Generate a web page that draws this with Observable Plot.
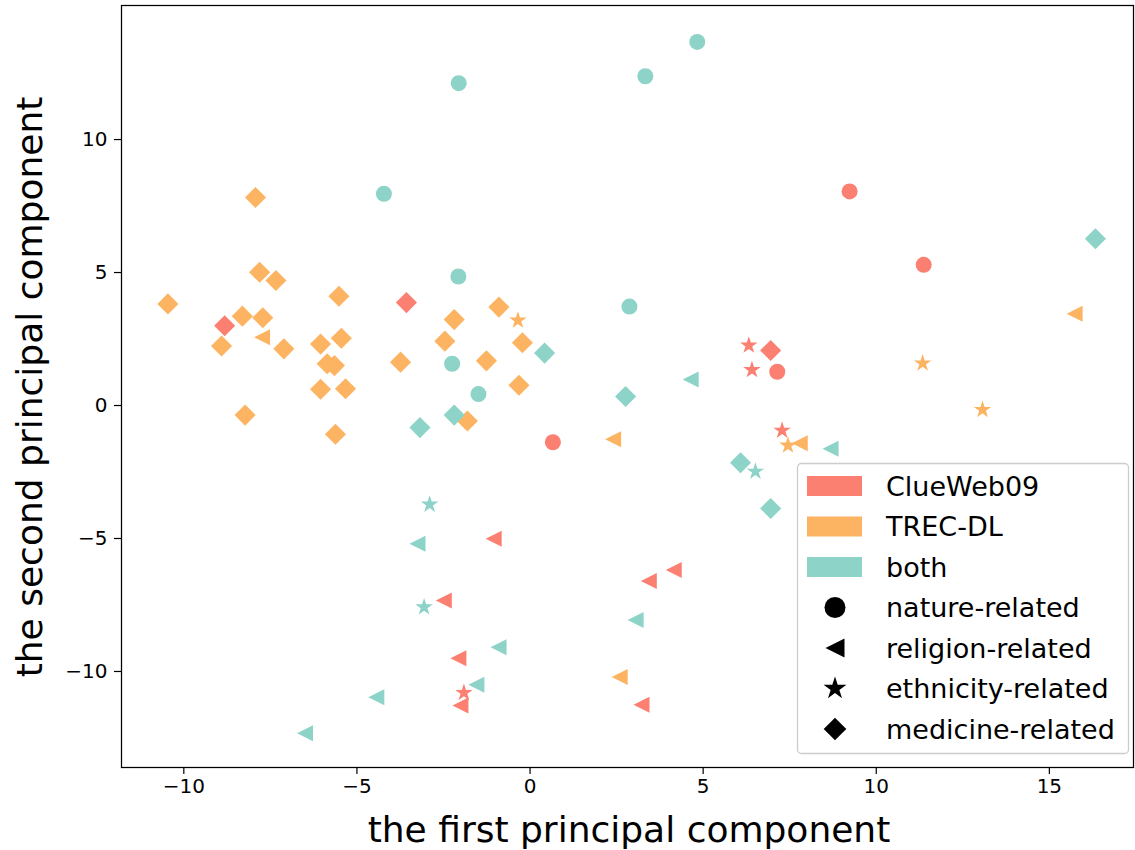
<!DOCTYPE html>
<html>
<head>
<meta charset="utf-8">
<script src="https://cdn.jsdelivr.net/npm/d3@7"></script>
<script src="https://cdn.jsdelivr.net/npm/@observablehq/plot@0.6"></script>
<style>
  body { margin: 0; background: #fff; }
  #chart svg { display: block; }
  #chart svg g[aria-label$="tick label"] text { font-size: 20px !important; }
</style>
</head>
<body>
<div id="chart"></div>
<script>
// ---------------- data ----------------
const sourceNames = ["ClueWeb09", "TREC-DL", "both"];
const sourceColors = ["#fb8072", "#fdb462", "#8dd3c7"];
const topicNames = ["nature-related", "religion-related", "ethnicity-related", "medicine-related"];

// ClueWeb09 points
const clueX = [-8.82, -3.57, 6.95, 0.66, 7.14, 9.23, 11.37, 6.32, 6.41, 7.28, -1.91, -1.05, 4.15, 3.43, -2.49, -2.07, -2.01, 3.22];
const clueY = [3.00, 3.87, 2.07, -1.38, 1.27, 8.05, 5.29, 2.26, 1.34, -0.94, -10.80, -5.01, -6.18, -6.60, -7.33, -9.50, -11.28, -11.25];
const clueTopic = ["medicine", "medicine", "medicine", "nature", "nature", "nature", "nature", "ethnicity", "ethnicity", "ethnicity", "ethnicity", "religion", "religion", "religion", "religion", "religion", "religion", "religion"];

// TREC-DL points
const trecX = [-7.93, -7.81, -7.34, -10.46, -5.52, -8.31, -7.72, -8.91, -7.11, -6.05, -5.45, -5.86, -5.65, -3.74, -6.05, -5.33, -8.23, -5.62, -0.90, -2.19, -2.46, -0.22, -1.26, -0.32, -1.81,
               -7.74, 2.40, 7.79, 15.73, 2.59,
               -0.35, 7.45, 11.34, 13.07];
const trecY = [7.82, 5.01, 4.70, 3.82, 4.11, 3.36, 3.30, 2.24, 2.13, 2.31, 2.53, 1.57, 1.50, 1.63, 0.61, 0.63, -0.36, -1.08, 3.70, 3.23, 2.42, 2.36, 1.68, 0.76, -0.58,
               2.57, -1.27, -1.42, 3.45, -10.21,
               3.20, -1.50, 1.59, -0.16];
const trecTopic = ["medicine", "medicine", "medicine", "medicine", "medicine", "medicine", "medicine", "medicine", "medicine", "medicine", "medicine", "medicine", "medicine", "medicine", "medicine", "medicine", "medicine", "medicine", "medicine", "medicine", "medicine", "medicine", "medicine", "medicine", "medicine",
               "religion", "religion", "religion", "religion", "religion",
               "ethnicity", "ethnicity", "ethnicity", "ethnicity"];

// "both" points
const bothX = [-2.07, -2.25, -1.49, -2.06, 3.33, 4.83, -4.22, 2.87,
               0.42, -2.19, -3.18, 2.76, 6.08, 6.95, 16.33,
               4.64, 8.68, -3.25, 3.05, -0.91, -1.55, -4.44, -6.50,
               -2.90, -3.06, 6.51];
const bothY = [4.85, 1.57, 0.43, 12.12, 12.38, 13.67, 7.96, 3.72,
               1.97, -0.36, -0.83, 0.34, -2.15, -3.87, 6.27,
               0.98, -1.63, -5.20, -8.06, -9.09, -10.50, -10.97, -12.32,
               -3.72, -7.58, -2.48];
const bothTopic = ["nature", "nature", "nature", "nature", "nature", "nature", "nature", "nature",
                   "medicine", "medicine", "medicine", "medicine", "medicine", "medicine", "medicine",
                   "religion", "religion", "religion", "religion", "religion", "religion", "religion", "religion",
                   "ethnicity", "ethnicity", "ethnicity"];

const xTicks = [-10, -5, 0, 5, 10, 15];
const yTicks = [-10, -5, 0, 5, 10];
const xLabel = "the first principal component";
const yLabel = "the second principal component";

// ---------------- table ----------------
const points = [];
[[clueX, clueY, clueTopic, 0], [trecX, trecY, trecTopic, 1], [bothX, bothY, bothTopic, 2]].forEach(([xs, ys, ts, s]) => {
  xs.forEach((x, i) => points.push({x, y: ys[i], topic: ts[i], source: sourceNames[s], color: sourceColors[s]}));
});

// ---------------- symbols (matplotlib-like) ----------------
const symCircle = {draw(ctx, size) { const r = Math.sqrt(size / Math.PI); ctx.moveTo(r, 0); ctx.arc(0, 0, r, 0, 2 * Math.PI); ctx.closePath(); }};
const makeDiamond = k => ({draw(ctx, size) { const r = Math.sqrt(size / Math.PI) * k; ctx.moveTo(0, -r); ctx.lineTo(r, 0); ctx.lineTo(0, r); ctx.lineTo(-r, 0); ctx.closePath(); }});
const makeLeftTri = k => ({draw(ctx, size) { const r = Math.sqrt(size / Math.PI) * k; ctx.moveTo(-r, 0); ctx.lineTo(r, -r); ctx.lineTo(r, r); ctx.closePath(); }});
const makeStar = k => ({draw(ctx, size) {
  const R = Math.sqrt(size / Math.PI) * k, ri = R * 0.381966;
  for (let i = 0; i < 10; i++) {
    const a = Math.PI * i / 5 - Math.PI / 2, rr = i % 2 ? ri : R;
    const px = rr * Math.cos(a), py = rr * Math.sin(a);
    if (i) ctx.lineTo(px, py); else ctx.moveTo(px, py);
  }
  ctx.closePath();
}});
const symbolFor = {nature: symCircle, religion: makeLeftTri(1), ethnicity: makeStar(1.15), medicine: makeDiamond(1.32)};

const fmt = d => d < 0 ? "\u2212" + (-d) : String(d);

const topicOrder = ["medicine", "nature", "religion", "ethnicity"];

const chart = Plot.plot({
  width: 1135,
  height: 850,
  marginLeft: 121,
  marginRight: 2,
  marginTop: 5,
  marginBottom: 83,
  style: {fontFamily: "DejaVu Sans", fontSize: "20px", color: "black", background: "white"},
  x: {domain: [-11.80, 17.43], label: null},
  y: {domain: [-13.61, 15.04], label: null},
  marks: [
    ...topicOrder.map(t => Plot.dot(points.filter(d => d.topic === t), {
      x: "x", y: "y", r: 8, symbol: symbolFor[t], fill: "color", stroke: "none"
    })),
    Plot.frame({stroke: "black", strokeWidth: 1.25}),
    Plot.axisX(xTicks, {tickSize: 7, tickPadding: 4, tickFormat: fmt, fontSize: 20, strokeWidth: 1.2, label: null}),
    Plot.axisY(yTicks, {tickSize: 7, tickPadding: 7, tickFormat: fmt, fontSize: 20, strokeWidth: 1.2, label: null})
  ]
});
document.getElementById("chart").appendChild(chart);

const svg = d3.select(chart);

// ---------------- axis titles ----------------
svg.append("text").attr("x", 629).attr("y", 842).attr("text-anchor", "middle")
  .attr("font-family", "DejaVu Sans").attr("font-size", 36).attr("fill", "black").text(xLabel);
svg.append("text").attr("transform", "translate(42,387) rotate(-90)").attr("text-anchor", "middle")
  .attr("font-family", "DejaVu Sans").attr("font-size", 36).attr("fill", "black").text(yLabel);

// ---------------- legend ----------------
const lg = svg.append("g").attr("font-family", "DejaVu Sans").attr("font-size", 27).attr("fill", "black").attr("text-anchor", "start");
lg.append("rect").attr("x", 797.5).attr("y", 463.5).attr("width", 331).attr("height", 290).attr("rx", 4)
  .attr("fill", "white").attr("fill-opacity", 0.8).attr("stroke", "#cccccc").attr("stroke-width", 1.3);
const rowY = i => 486 + i * 40.5;
sourceNames.forEach((name, i) => {
  lg.append("rect").attr("x", 807).attr("y", rowY(i) - 10).attr("width", 55).attr("height", 20).attr("fill", sourceColors[i]);
  lg.append("text").attr("x", 886).attr("y", rowY(i)).attr("dy", "0.36em").attr("text-anchor", "start").text(name);
});
const legendSyms = [
  {sym: symCircle, r: 10.5},
  {sym: makeLeftTri(1), r: 9.5},
  {sym: makeStar(1), r: 12},
  {sym: makeDiamond(1), r: 11.3}
];
topicNames.forEach((name, j) => {
  const i = j + 3;
  const p = d3.path();
  legendSyms[j].sym.draw(p, legendSyms[j].r * legendSyms[j].r * Math.PI);
  lg.append("path").attr("d", p.toString()).attr("transform", `translate(835,${rowY(i)})`).attr("fill", "black");
  lg.append("text").attr("x", 886).attr("y", rowY(i)).attr("dy", "0.36em").attr("text-anchor", "start").text(name);
});
</script>
</body>
</html>
